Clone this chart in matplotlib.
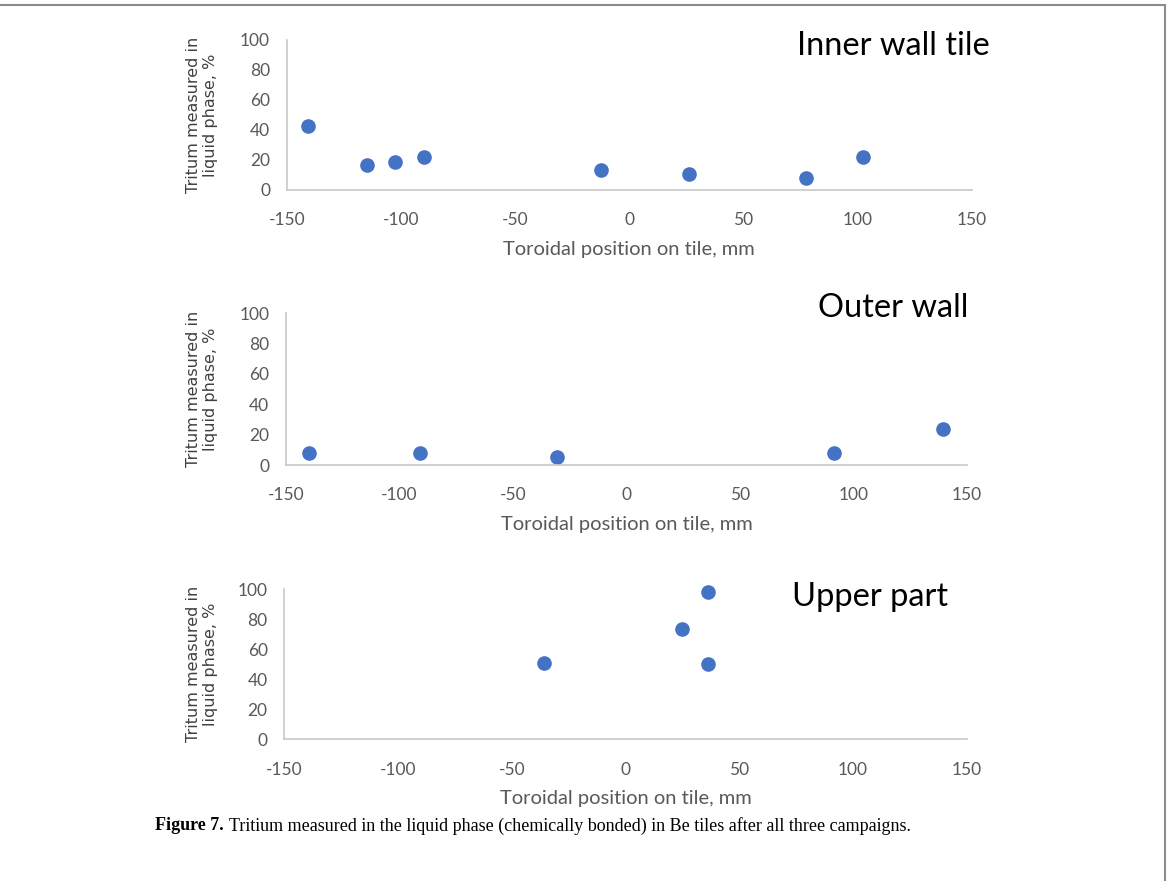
import matplotlib.pyplot as plt
from matplotlib.lines import Line2D

plt.rcParams['axes.unicode_minus'] = False

inner_x = [-140.5, -115, -102.5, -90, -12.5, 26, 77.5, 102.5]
inner_y = [43, 16.7, 18.7, 22.2, 13.1, 11, 8, 22.2]
outer_x = [-140, -91, -30.5, 91.5, 139.5]
outer_y = [7.8, 7.8, 5, 8, 23.5]
upper_x = [-35.7, 25, 36.4, 36.4]
upper_y = [51, 73.3, 98.4, 50.2]

titles = ['Inner wall tile', 'Outer wall', 'Upper part']
x_ticks = [-150, -100, -50, 0, 50, 100, 150]
y_ticks = [0, 20, 40, 60, 80, 100]
xlabel = 'Toroidal position on tile, mm'
ylabel = 'Tritum measured in\nliquid phase, %'

W, H = 1171, 881
fig = plt.figure(figsize=(W / 100, H / 100), dpi=100)

# axes boxes in pixels: left, right, y of 0, y of 100
boxes = [(286.7, 971.7, 190, 40),
         (286.0, 967.0, 465, 313),
         (284.3, 966.7, 739.3, 589.3)]
title_pos = [(797, 46), (818, 308), (792, 597)]
data = [(inner_x, inner_y), (outer_x, outer_y), (upper_x, upper_y)]

grey = '#595959'
for (l, r, y0, y1), (xs, ys), title, (tx, ty) in zip(boxes, data, titles, title_pos):
    ax = fig.add_axes([l / W, (H - y0) / H, (r - l) / W, (y0 - y1) / H])
    ax.plot(xs, ys, 'o', color='#4472C4', markersize=9.5, clip_on=False)
    ax.set_xlim(-150, 150)
    ax.set_ylim(0, 100)
    ax.set_xticks(x_ticks)
    ax.set_yticks(y_ticks)
    for side in ['top', 'right']:
        ax.spines[side].set_visible(False)
    for side in ['left', 'bottom']:
        ax.spines[side].set_color('#c8c8c8')
        ax.spines[side].set_linewidth(1.2)
    ax.tick_params(length=0, labelsize=12.5, labelcolor=grey)
    ax.tick_params(axis='x', pad=16)
    ax.tick_params(axis='y', pad=12)
    for lab in ax.get_xticklabels() + ax.get_yticklabels():
        lab.set_family('Lato')
    ax.set_xlabel(xlabel, family='Lato', fontsize=14.5, color=grey, labelpad=9)
    ax.set_ylabel(ylabel, family='DejaVu Sans', fontsize=11.5, color='#404040',
                  va='center', linespacing=1.2)
    ax.yaxis.set_label_coords((202 - l) / (r - l), 0.5)
    fig.text(tx / W, 1 - ty / H, title, family='Lato', fontsize=23.5,
             color='black', ha='left', va='center')

# caption
fig.text(155 / W, 1 - 826 / H, 'Figure 7.', family='Liberation Serif',
         fontsize=13, weight='bold', va='center')
fig.text(229 / W, 1 - 826 / H,
         'Tritium measured in the liquid phase (chemically bonded) in Be tiles after all three campaigns.',
         family='Liberation Serif', fontsize=13, va='center')

# frame around the figure
fig.add_artist(Line2D([0, 1165 / W], [1 - 5 / H, 1 - 5 / H], color='#8c8c8c', lw=1.5))
fig.add_artist(Line2D([1165 / W, 1165 / W], [0, 1 - 5 / H], color='#8c8c8c', lw=1.5))

fig.savefig('out.png', dpi=100)
